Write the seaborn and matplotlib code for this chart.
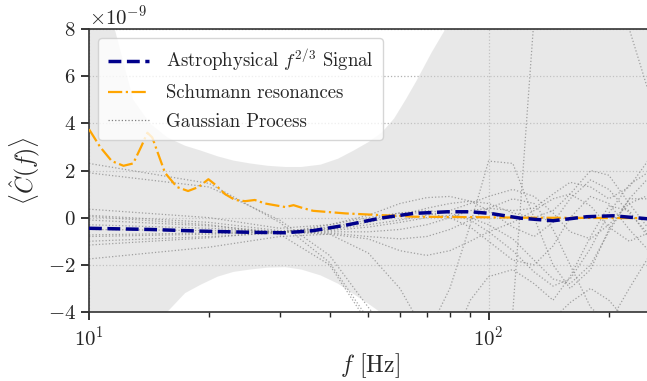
import matplotlib
matplotlib.use("Agg")
import matplotlib.pyplot as plt
import seaborn as sns
import numpy as np
import pandas as pd
from matplotlib.lines import Line2D

# values in units of 1e-9
band_freq = [10, 11.6, 12.9, 14.2, 15.7, 17.4, 19.0, 21, 23, 25.3, 28, 31, 34, 38, 42,
             46, 50, 54, 58, 62, 66, 72, 78, 85, 95, 110, 130, 160, 200, 255]
band_upper = [16, 8, 5.0, 4.0, 3.4, 3.05, 2.85, 2.6, 2.42, 2.3, 2.2, 2.15, 2.15, 2.25, 2.5,
              2.85, 3.2, 3.6, 4.2, 5.0, 5.8, 7.0, 8.0, 10, 13, 18, 25, 35, 50, 70]
band_lower = [-12, -8, -6.5, -5.2, -4.0, -3.2, -2.85, -2.5, -2.3, -2.2, -2.12, -2.1, -2.2, -2.45, -2.8,
              -3.25, -3.65, -4.05, -4.5, -5.0, -5.7, -6.5, -7.5, -8.5, -10.5, -13, -18, -25, -35, -50]

signal_freq = [10, 14.2, 19.0, 25.3, 31.0, 36.4, 44.2, 53.6, 64.9, 78.9, 90, 101, 120, 145, 176, 205, 255]
signal_vals = [-0.45, -0.5, -0.57, -0.62, -0.64, -0.55, -0.31, -0.02, 0.18, 0.25, 0.25, 0.18,
               -0.02, -0.13, 0.04, 0.08, -0.06]

schumann_freq = [10.0, 10.66, 11.4, 12.2, 12.9, 13.5, 14.0, 14.4, 14.9, 15.5, 16.6, 17.7, 18.8,
                 19.9, 20.7, 21.9, 23.2, 24.6, 26.0, 27.6, 31.0, 32.5, 34.4, 36.4, 43.9, 53.6,
                 64.9, 95.3, 120, 255]
schumann_vals = [3.75, 3.0, 2.4, 2.2, 2.3, 3.0, 3.6, 3.4, 2.7, 1.9, 1.3, 1.13, 1.3, 1.63, 1.4,
                 1.0, 0.75, 0.7, 0.75, 0.6, 0.45, 0.53, 0.4, 0.29, 0.18, 0.11, 0.04, 0.02, 0.0, -0.02]

sample_freq = [10, 20, 30, 40, 50, 60, 70, 80, 90, 100, 115, 130, 145, 160, 180, 200, 225, 255]
gp_samples = [
    [2.3, 1.45, -0.2, -1.9, -4.3, -7.0, -9.0, -10.0, -9.0, -7.0, -5.5, -4.6, -4.3, -3.6, -3.0, -3.5, -4.5, -6.0],
    [1.9, 1.3, -0.1, -1.6, -3.8, -5.5, -5.0, -3.0, -0.3, 2.4, 2.3, 0.0, -2.0, -3.0, -2.2, -0.5, 0.8, 0.8],
    [-1.75, -1.25, -0.8, -0.7, -1.5, -3.0, -5.0, -7.0, -8.0, -7.0, -4.0, 8.5, 15.0, 18.0, 16.0, 12.0, 8.0, 5.0],
    [0.36, 0.0, -0.45, -0.3, 0.1, 0.6, 0.85, 0.9, 0.7, 0.3, -0.4, -0.8, -0.2, 0.8, 1.6, 1.2, 0.2, -0.8],
    [0.1, -0.2, -0.55, -0.5, -0.3, -0.1, 0.1, 0.3, 0.6, 0.9, 1.2, 0.9, 0.2, -0.6, -0.9, -0.3, 0.6, 1.0],
    [-0.1, -0.35, -0.6, -0.7, -0.9, -1.4, -1.6, -1.4, -1.0, -0.6, -0.2, 0.3, 0.8, 1.0, 0.5, -0.4, -1.0, -0.6],
    [-0.3, -0.45, -0.6, -0.55, -0.4, -0.2, 0.0, 0.1, 0.0, -0.3, -0.9, -1.8, -2.6, -2.8, -2.0, -0.6, 0.8, 1.8],
    [-0.73, -0.65, -0.6, -0.45, -0.2, 0.1, 0.4, 0.6, 0.7, 0.6, 0.2, 0.0, 0.3, 1.0, 2.0, 1.8, 0.6, -0.6],
    [-1.16, -0.85, -0.6, -0.4, -0.1, 0.2, 0.3, 0.2, -0.1, -0.6, -1.4, -2.3, -2.9, -2.6, -1.3, 0.2, 1.4, 2.0],
    [-1.0, -0.8, -0.65, -0.3, 0.0, 0.2, 0.2, 0.0, -0.4, -1.0, -1.8, -2.0, -1.2, 0.0, 0.9, 0.6, -0.5, -1.5],
    [0.05, -0.3, -0.7, -2.0, -4.5, -6.5, -7.0, -5.5, -3.5, -2.5, -2.2, -2.8, -3.5, -2.5, -0.8, 0.5, 0.3, -1.0],
    [-0.5, -0.55, -0.6, -0.6, -0.6, -0.5, -0.3, 0.0, 0.3, 0.4, 0.3, 0.4, 1.0, 1.5, 1.3, 0.8, 1.3, 2.6],
    [-0.8, -0.7, -0.6, -0.65, -0.8, -0.9, -0.8, -0.5, -0.1, 0.4, 0.8, 0.6, -0.5, -2.0, -3.8, -4.5, -3.0, -1.5],
]

SCALE = 1e-9

sns.set_theme(style="ticks")
plt.rcParams.update({
    "font.family": "serif",
    "font.serif": ["cmr10", "DejaVu Serif"],
    "mathtext.fontset": "cm",
    "axes.formatter.use_mathtext": True,
    "axes.unicode_minus": True,
})

fig = plt.figure(figsize=(6.47, 3.81), dpi=100)
ax = fig.add_axes([89 / 647, 69 / 381, 562 / 647, 283 / 381])

ax.fill_between(np.array(band_freq), np.array(band_lower) * SCALE, np.array(band_upper) * SCALE,
                color="lightgrey", alpha=0.5, linewidth=0, zorder=1)

gp_df = pd.DataFrame([
    {"f": f, "C": v * SCALE, "sample": i}
    for i, s in enumerate(gp_samples) for f, v in zip(sample_freq, s)
])
sns.lineplot(data=gp_df, x="f", y="C", units="sample", estimator=None, color="grey",
             linestyle=":", linewidth=0.9, alpha=0.7, ax=ax, legend=False, zorder=2)

sns.lineplot(x=np.array(schumann_freq), y=np.array(schumann_vals) * SCALE, color="orange",
             linestyle="-.", linewidth=1.6, ax=ax, legend=False, zorder=3)
sns.lineplot(x=np.array(signal_freq), y=np.array(signal_vals) * SCALE, color="darkblue",
             linestyle="--", linewidth=2.5, ax=ax, legend=False, zorder=4)

ax.set_xscale("log")
ax.set_xlim(10, 255)
ax.set_ylim(-4e-9, 8e-9)
ax.set_yticks(np.arange(-4, 9, 2) * SCALE)

ax.grid(True, which="major", linestyle=":", color="#b0b0b0", linewidth=0.9)
ax.set_axisbelow(True)

ax.tick_params(axis="both", which="major", labelsize=15, length=6, width=1.3, direction="out")
ax.tick_params(axis="x", which="minor", length=3.5, width=1.0)
ax.yaxis.get_offset_text().set_fontsize(15)
for side in ["left", "bottom", "top"]:
    ax.spines[side].set_color("#333333")
    ax.spines[side].set_linewidth(1.2)

ax.set_xlabel(r"$f$ [Hz]", fontsize=17, labelpad=1)
ax.set_ylabel(r"$\langle\hat{C}(f)\rangle$", fontsize=17)

handles = [
    Line2D([], [], color="darkblue", linestyle="--", linewidth=2.5),
    Line2D([], [], color="orange", linestyle="-.", linewidth=1.6),
    Line2D([], [], color="grey", linestyle=":", linewidth=0.9),
]
labels = [r"Astrophysical $f^{2/3}$ Signal", "Schumann resonances", "Gaussian Process"]
ax.legend(handles, labels, loc="upper left", fontsize=13.5, handlelength=2.2, handletextpad=0.9,
          labelspacing=0.55, frameon=True, framealpha=0.8, edgecolor="#cccccc", borderpad=0.5)

fig.savefig("out.png", dpi=100)
plt.close(fig)
